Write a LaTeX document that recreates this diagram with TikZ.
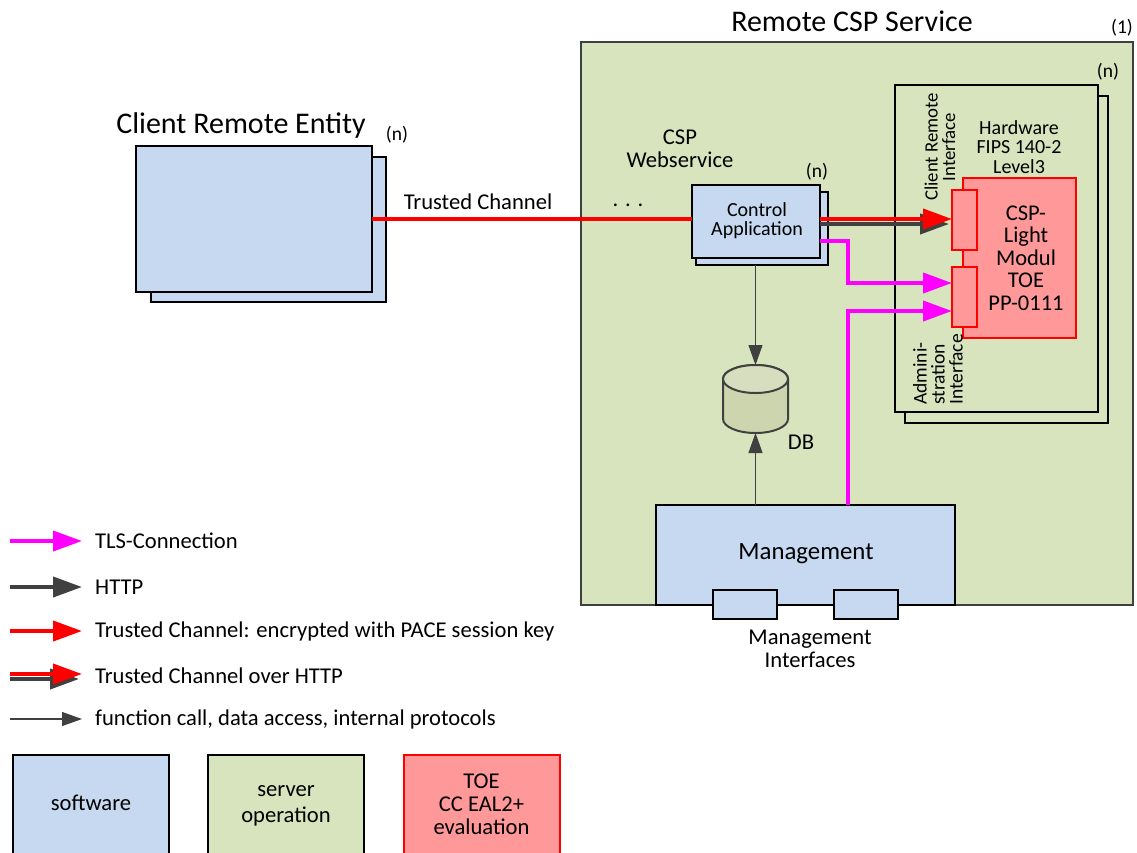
\documentclass[tikz,border=0pt]{standalone}
\usepackage{fontspec}
\setmainfont{Carlito}
\usetikzlibrary{arrows.meta,calc}
\definecolor{srvgreen}{HTML}{D7E4BD}
\definecolor{swblue}{HTML}{C6D9F0}
\definecolor{toered}{HTML}{FF9999}
\definecolor{dbfill}{HTML}{CDD5AF}
\definecolor{darkg}{HTML}{404040}
\definecolor{mag}{HTML}{FF00FF}
\newcommand{\fs}[2]{\fontsize{#1pt}{#2pt}\selectfont}
\tikzset{
  box/.style={draw=black, line width=1.3pt, inner sep=0pt, outer sep=0pt},
  sw/.style={box, fill=swblue},
  srv/.style={box, fill=srvgreen},
  toebox/.style={draw=red, line width=2pt, fill=toered, inner sep=0pt, outer sep=0pt},
  lbl/.style={inner sep=0pt, align=center, font=\fs{22.6}{23}},
  small/.style={inner sep=0pt, align=center, font=\fs{19.5}{20}},
  big/.style={inner sep=0pt, font=\fs{30}{32}},
  tls/.style={draw=mag, line width=4pt, -{Triangle[length=29pt,width=20pt]}},
  http/.style={draw=darkg, line width=4pt, -{Triangle[length=29pt,width=20pt]}},
  tc/.style={draw=red, line width=4pt, -{Triangle[length=29pt,width=20pt]}},
  tcline/.style={draw=red, line width=4pt},
  fn/.style={draw=darkg, line width=1.1pt, -{Triangle[length=20pt,width=14pt]}},
}
\begin{document}
\begin{tikzpicture}[x=1pt,y=-1pt]
\useasboundingbox (0,0) rectangle (1137,852);
\clip (0,0) rectangle (1137,852);

% Client remote entity
\node[sw, minimum width=235pt, minimum height=145pt] (creback) at (268.5,229.5) {};
\node[sw, minimum width=236pt, minimum height=146pt] (cre) at (254,219) {};
\node[big] (cretitle) at (241,125) {Client Remote Entity};
\node[small] (cren) at (397,135) {(n)};

% Remote CSP service
\node[srv, line width=1.2pt, draw=darkg, minimum width=552pt, minimum height=563pt] (csp) at (857,323.5) {};
\node[big] (csptitle) at (852,21) {Remote CSP Service};
\node[small] (cspn) at (1122,28) {(1)};

% Hardware
\node[srv, minimum width=203pt, minimum height=327pt] (hwback) at (1006.5,259.5) {};
\node[srv, minimum width=203pt, minimum height=327pt] (hw) at (996.5,248.5) {};
\node[small] (hwn) at (1108,72) {(n)};
\node[lbl, font=\fs{20}{19.5}] (hwlbl) at (1019,147) {Hardware\\FIPS 140-2\\Level3};
\node[toebox, minimum width=113pt, minimum height=160pt] (toe) at (1019.5,258) {};
\node[toebox, minimum width=25pt, minimum height=60pt] (if1) at (964.5,220) {};
\node[toebox, minimum width=25pt, minimum height=60pt] (if2) at (964.5,297) {};
\node[lbl, font=\fs{22.5}{22.5}] (toelbl) at (1026,258) {CSP-\\Light\\Modul\\TOE\\PP-0111};
\node[lbl, font=\fs{18.8}{17.5}, rotate=90] (crilbl) at (940,147) {Client Remote\\Interface};
\node[lbl, font=\fs{19.5}{18}, rotate=90, anchor=south west, align=left] (admlbl) at (963,405) {Admini-\\stration\\Interface};

% CSP webservice
\node[lbl] (wslbl) at (680,149) {CSP\\Webservice};
\node[sw, minimum width=132pt, minimum height=73pt] (caback) at (762,228.5) {};
\node[sw, minimum width=128pt, minimum height=73pt] (ca) at (756,221.5) {};
\node[lbl, font=\fs{20}{19}] (calbl) at (757,221) {Control\\Application};
\node[small] (can) at (817,172) {(n)};
\node[lbl] (dots) at (628,205) {. . .};

% DB
\node[inner sep=0pt, outer sep=0pt, minimum width=65pt, minimum height=68pt] (db) at (755.5,399) {};
\draw[draw=darkg, line width=2pt, fill=dbfill]
  (723,379) -- (723,419) arc[start angle=180, end angle=0, x radius=32.5, y radius=14]
  -- (788,379) arc[start angle=360, end angle=180, x radius=32.5, y radius=14] -- cycle;
\draw[draw=darkg, line width=2pt, fill=dbfill!80!white] (755.5,379) ellipse[x radius=32.5, y radius=14];
\node[lbl] (dblbl) at (801,442) {DB};

% Management
\node[sw, minimum width=299pt, minimum height=100pt] (mgmt) at (805.5,555) {};
\node[lbl, font=\fs{24.8}{25}] (mgmtlbl) at (806,554) {Management};
\node[sw, minimum width=64pt, minimum height=29pt] (mi1) at (745,604.5) {};
\node[sw, minimum width=64pt, minimum height=29pt] (mi2) at (866,604.5) {};
\node[lbl] (milbl) at (810,649) {Management\\Interfaces};

% Connectors
\draw[tcline] (cre.east) -- (cre.east -| ca.west);
\node[lbl] (tclbl) at (478,202) {Trusted Channel};
\draw[http] ($(ca.east)+(0,2.5)$) -- ($(if1.west)+(-3,4)$);
\draw[tc] ($(ca.east)+(0,-2.5)$) -- ($(if1.west)+(0,-1)$);
\coordinate (mx) at (848,0);
\draw[tls] ($(ca.east)+(0,19.5)$) -| ($(mx)+(0,283)$) -- ($(if2.west)+(0,-14)$);
\draw[tls] (mgmt.north -| mx) |- ($(if2.west)+(0,14)$);
\draw[fn] (caback.south -| db.north) -- (db.north);
\draw[fn] (mgmt.north -| db.south) -- (db.south);

% Legend
\coordinate (l1a) at (10,541); \coordinate (l1b) at (82,541);
\coordinate (l2a) at (10,587); \coordinate (l2b) at (82,587);
\coordinate (l3a) at (10,631); \coordinate (l3b) at (82,631);
\coordinate (l4a) at (10,674); \coordinate (l4b) at (82,674);
\coordinate (l5a) at (10,719); \coordinate (l5b) at (82,719);
\draw[tls] (l1a) -- (l1b);
\draw[http] (l2a) -- (l2b);
\draw[tc] (l3a) -- (l3b);
\draw[http] ($(l4a)+(0,5)$) -- ($(l4b)+(-3,5)$);
\draw[tc] (l4a) -- (l4b);
\draw[fn] (l5a) -- (l5b);
\node[lbl, anchor=west] (l1t) at (95,541) {TLS-Connection};
\node[lbl, anchor=west] (l2t) at (95,587) {HTTP};
\node[lbl, anchor=west] (l3t) at (95,631) {Trusted Channel: encrypted with PACE session key};
\node[lbl, anchor=west] (l4t) at (95,676) {Trusted Channel over HTTP};
\node[lbl, anchor=west] (l5t) at (95,719) {function call, data access, internal protocols};

\node[sw, minimum width=156pt, minimum height=104pt] (legsw) at (91,807) {};
\node[lbl] at (91,803) {software};
\node[srv, minimum width=156pt, minimum height=104pt] (legsrv) at (286,807) {};
\node[lbl, font=\fs{22.6}{26}] at (286,806) {server\\operation};
\node[toebox, minimum width=156pt, minimum height=104pt] (legtoe) at (481.5,807) {};
\node[lbl] at (481.5,804) {TOE\\CC EAL2+\\evaluation};
\end{tikzpicture}
\end{document}
